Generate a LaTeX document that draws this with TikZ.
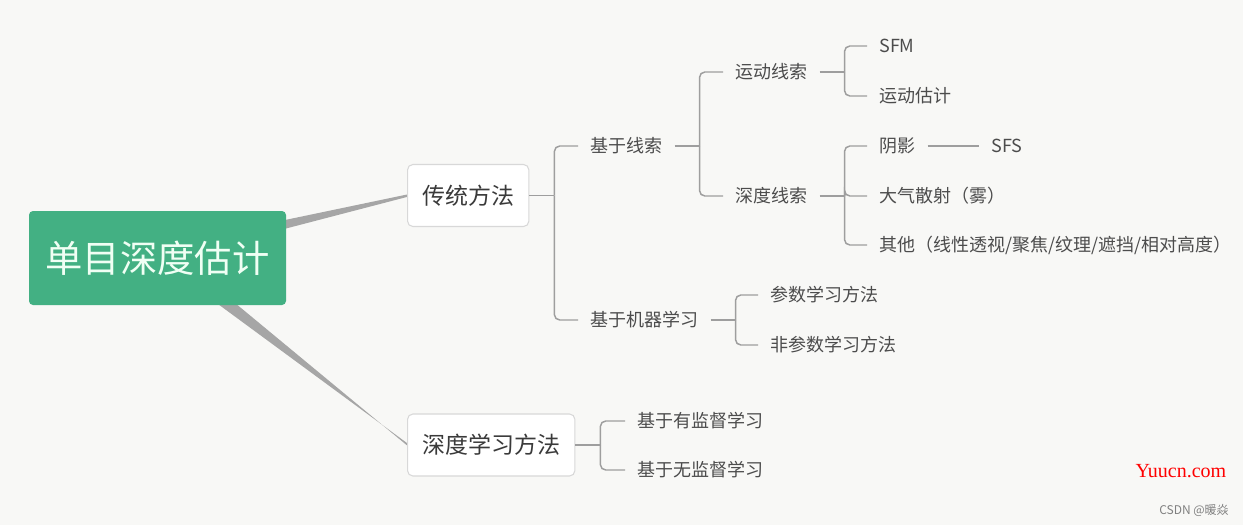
\documentclass[tikz,border=0pt]{standalone}
\usepackage{fontspec}
\setmainfont{Noto Sans CJK SC}
\newfontfamily\wmfont{Liberation Serif}
\usetikzlibrary{calc,backgrounds}
\definecolor{bgpaper}{RGB}{248,248,246}
\definecolor{rootgreen}{RGB}{67,176,131}
\definecolor{roottext}{RGB}{240,255,244}
\definecolor{trunkgray}{RGB}{166,166,166}
\definecolor{linegray}{RGB}{158,158,158}
\definecolor{boxgray}{RGB}{216,216,216}
\definecolor{txtdark}{RGB}{58,58,58}
\definecolor{txtmid}{RGB}{76,76,76}
\tikzset{
  rootbox/.style={rounded corners=3pt, fill=rootgreen, text=roottext, inner sep=0pt,
    minimum width=192.75pt, minimum height=70.5pt, font=\fontsize{28}{32}\selectfont},
  topbox/.style={anchor=west, draw=boxgray, fill=white, rounded corners=4pt, line width=0.8pt,
    text=txtdark, inner xsep=11pt, minimum height=46.5pt, font=\fontsize{17.25}{20}\selectfont},
  leaf/.style={anchor=west, text=txtmid, inner xsep=9pt, inner ysep=2pt,
    font=\fontsize{13.5}{16}\selectfont},
  brk/.style={linegray, line width=1.1pt},
  fork/.style={brk, rounded corners=4pt},
  trunk/.style={fill=trunkgray},
}
\begin{document}
\begin{tikzpicture}[x=0.75pt,y=-0.75pt]
  \useasboundingbox (0,0) rectangle (1243,525);
  % root and first level
  \node[rootbox] (root) at (157.5,258) {单目深度估计};
  \node[topbox] (tr) at (407,195.5) {传统方法};
  \node[topbox] (dl) at (407,445) {深度学习方法};
  % second level
  \node[leaf] (xs) at (578,146) {基于线索};
  \node[leaf] (jq) at (578,320) {基于机器学习};
  \node[leaf] (yjd) at (625,421) {基于有监督学习};
  \node[leaf] (wjd) at (625,470) {基于无监督学习};
  % cues
  \node[leaf] (yd) at (723,72) {运动线索};
  \node[leaf] (sd) at (723,196) {深度线索};
  \node[leaf] (sfm) at (867,46) {SFM};
  \node[leaf] (ydgj) at (867,96) {运动估计};
  \node[leaf] (yy) at (867,146) {阴影};
  \node[leaf] (sfs) at (979,146) {SFS};
  \node[leaf] (dq) at (867,196) {大气散射（雾）};
  \node[leaf] (qt) at (867,245) {其他（线性透视/聚焦/纹理/遮挡/相对高度）};
  % machine learning
  \node[leaf] (cs) at (758,295) {参数学习方法};
  \node[leaf] (fcs) at (758,345) {非参数学习方法};
  % watermarks
  \node[text=red, font=\wmfont\fontsize{15}{17}\selectfont] (yuucn) at (1181,471) {Yuucn.com};
  \node[text=gray, font=\fontsize{9}{11}\selectfont] (csdn) at (1194,510) {CSDN @暖焱};

  % forks
  \foreach \p/\kids in {tr/{xs,jq}, xs/{yd,sd}, yd/{sfm,ydgj}, sd/{yy,dq,qt}, jq/{cs,fcs}, dl/{yjd,wjd}}{
    \draw[brk] (\p.east) -- ++(25,0) coordinate (\p j);
    \foreach \c in \kids
      \draw[fork] (\p j) |- (\c.west);
  }
  \draw[brk] (yy.east) -- (sfs.west);

  \begin{pgfonlayer}{background}
    \fill[bgpaper] (0,0) rectangle (1243,525);
    \fill[trunk] ($(root.east)+(-6,-37)$) -- ($(tr.west)+(1,-1.2)$)
      -- ($(tr.west)+(1,1.2)$) -- ($(root.east)+(-6,-28)$) -- cycle;
    \fill[trunk] ($(root.south)+(54,-6)$) -- ($(dl.west)+(1,-1.2)$)
      -- ($(dl.west)+(1,1.2)$) -- ($(root.south)+(73,-6)$) -- cycle;
  \end{pgfonlayer}
\end{tikzpicture}
\end{document}
